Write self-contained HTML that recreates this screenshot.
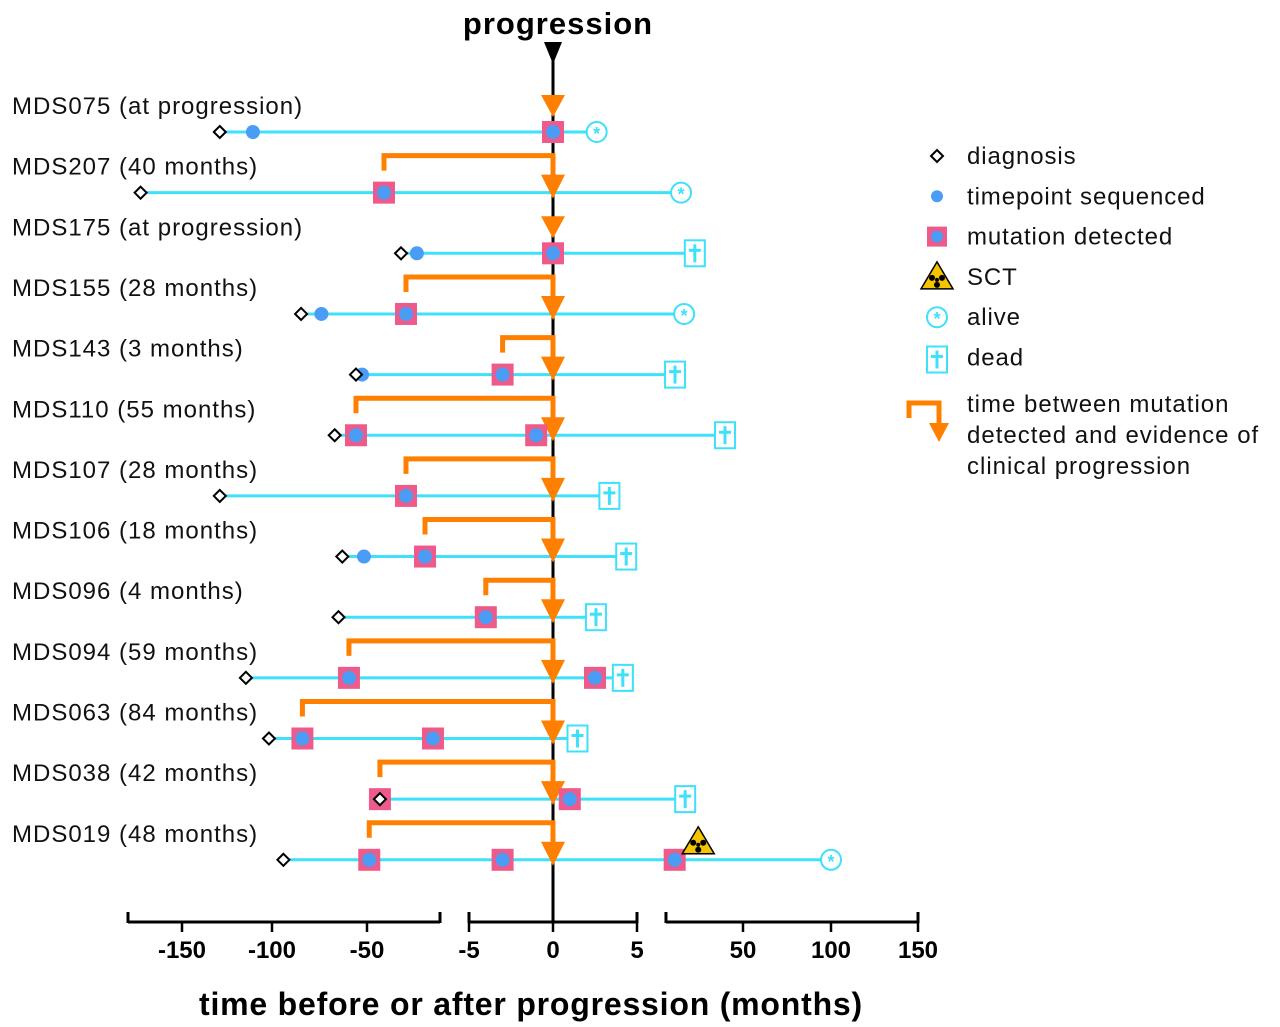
<!DOCTYPE html>
<html><head><meta charset="utf-8"><style>
body{margin:0;background:#fff;}
svg{display:block;font-family:"Liberation Sans",Arial,sans-serif;}
</style></head><body>
<svg id="chart" width="1280" height="1027" viewBox="0 0 1280 1027">
<g id="plot"></g>
</svg>
<script>
const patients = ["MDS075 (at progression)","MDS207 (40 months)","MDS175 (at progression)","MDS155 (28 months)","MDS143 (3 months)","MDS110 (55 months)","MDS107 (28 months)","MDS106 (18 months)","MDS096 (4 months)","MDS094 (59 months)","MDS063 (84 months)","MDS038 (42 months)","MDS019 (48 months)"];
const diagnosis = [-129,-173,-35,-84.7,-55.8,-67,-129,-63,-65,-114.5,-101.7,-44.3,-94];
const sequenced = [[-110.6],[],[-28],[-74],[-52.6],[],[],[-51.6],[],[],[],[],[]];
const mutations = [[0],[-42.5],[0],[-32.8],[-3],[-55.8,-1],[-32.8],[-24.4],[-4],[-59.5,2.5],[-84,-20.9],[-44.3,1],[-49,-3,21]];
const outcomeTime = [2.6,23.7,27,25,18.6,39.8,3,4,2.2,3.8,1.1,22.9,100];
const outcomeType = ["alive","alive","dead","alive","dead","dead","dead","dead","dead","dead","dead","dead","alive"];
const sctTime = [null,null,null,null,null,null,null,null,null,null,null,null,31];
const tickValues = [-150,-100,-50,-5,0,5,50,100,150];
const tickLabels = ["-150","-100","-50","-5","0","5","50","100","150"];
const segments = [[-180,-17.8],[-5,5],[17.3,150]];

const bpV=[-180,-150,-100,-50,-5,5,50,100,150];
const bpX=[128,182,272,367,469,637,743,831,918];
function x(v){
  if(v<=bpV[0]) return bpX[0]+(v-bpV[0])*1.8;
  for(let i=0;i<bpV.length-1;i++){
    if(v<=bpV[i+1]){return bpX[i]+(v-bpV[i])/(bpV[i+1]-bpV[i])*(bpX[i+1]-bpX[i]);}
  }
  return bpX[bpX.length-1]+(v-150)*1.75;
}
function y(i){return 132+i*60.65;}
const NS="http://www.w3.org/2000/svg";
const g=document.getElementById('plot');
function el(t,a,p){const e=document.createElementNS(NS,t);for(const k in a)e.setAttribute(k,a[k]);(p||g).appendChild(e);return e;}
const CY="#3ee0fa",BL="#4a9cf5",PK="#ee5a8a",OR="#ff8000";

let e=el('line',{x1:553,y1:55,x2:553,y2:922,stroke:"#000","stroke-width":3});


e=el('polygon',{points:"544,42 562,42 553,64",fill:"#000"});


e=el('text',{x:558,y:34,"font-size":31,"font-weight":"bold","text-anchor":"middle","letter-spacing":1});e.textContent="progression";



function alive(cx,cy,p){
  const gg=el('g',{},p);
  el('circle',{cx:cx,cy:cy,r:10,fill:"#fff",stroke:CY,"stroke-width":2},gg);
  const t=el('text',{x:cx,y:cy+8,"font-size":18,"font-weight":"bold",fill:CY,"text-anchor":"middle"},gg);t.textContent="*";
  return gg;
}
function dead(cx,cy,p){
  const gg=el('g',{},p);
  el('rect',{x:cx-10,y:cy-13,width:20,height:26,fill:"#fff",stroke:CY,"stroke-width":2},gg);
  el('line',{x1:cx,y1:cy-9,x2:cx,y2:cy+9,stroke:CY,"stroke-width":3},gg);
  el('line',{x1:cx-6,y1:cy-3,x2:cx+6,y2:cy-3,stroke:CY,"stroke-width":3},gg);
  return gg;
}
function diamond(cx,cy,p){return el('polygon',{points:`${cx},${cy-6} ${cx+6},${cy} ${cx},${cy+6} ${cx-6},${cy}`,fill:"#fff",stroke:"#000","stroke-width":2},p);}
function sct(cx,cy,p){
  const gg=el('g',{},p);
  el('polygon',{points:`${cx},${cy-15} ${cx+16},${cy+12} ${cx-16},${cy+12}`,fill:"#f5c400",stroke:"#000","stroke-width":1.5},gg);
  el('circle',{cx:cx,cy:cy+3,r:2,fill:"#000"},gg);
  el('circle',{cx:cx-5,cy:cy+1,r:3,fill:"#000"},gg);
  el('circle',{cx:cx+5,cy:cy+1,r:3,fill:"#000"},gg);
  el('circle',{cx:cx,cy:cy+8,r:3,fill:"#000"},gg);
  return gg;
}

patients.forEach((name,i)=>{
  const cy=y(i);
  const row=el('g',{});
  
  
  const lab=el('text',{x:12,y:cy-18,"font-size":24,"letter-spacing":1,fill:"#111"},row);lab.textContent=name;
  
  
  const xs=x(diagnosis[i]), xe=x(outcomeTime[i]);
  const ln=el('line',{x1:xs,y1:cy,x2:xe,y2:cy,stroke:CY,"stroke-width":3},row);
  
  
  const first=mutations[i][0];
  if(first<0){
    const bx=x(first);
    const br=el('polyline',{points:`${bx},${cy-22} ${bx},${cy-37} ${x(0)},${cy-37} ${x(0)},${cy-14}`,fill:"none",stroke:OR,"stroke-width":5},row);
    
    
    const ar=el('polygon',{points:`${x(0)-12},${cy-18} ${x(0)+12},${cy-18} ${x(0)},${cy+6}`,fill:OR},row);
    
    
  } else {
    const ar=el('polygon',{points:`${x(0)-12},${cy-37} ${x(0)+12},${cy-37} ${x(0)},${cy-15}`,fill:OR},row);
    
    
  }
  mutations[i].forEach(m=>{
    const mx=x(m);
    const s=el('rect',{x:mx-11,y:cy-11,width:22,height:22,fill:PK},row);
    
    
    if(Math.abs(m-diagnosis[i])>0.5) el('circle',{cx:mx,cy:cy,r:7,fill:BL},row);
  });
  sequenced[i].forEach(sv=>{
    const c=el('circle',{cx:x(sv),cy:cy,r:7,fill:BL},row);
    
    
  });
  const d=diamond(xs,cy,row);
  
  
  const o=outcomeType[i]==="alive"?alive(xe,cy,row):dead(xe+6,cy,row);
  
  
  if(sctTime[i]!==null){
    const s=sct(x(sctTime[i]),cy-18,row);
    
    
  }
});

const ax=el('g',{});


segments.forEach(sg=>{
  const a=x(sg[0]),b=x(sg[1]);
  el('line',{x1:a,y1:922,x2:b,y2:922,stroke:"#000","stroke-width":3},ax);
  el('line',{x1:a,y1:912,x2:a,y2:923,stroke:"#000","stroke-width":3},ax);
  el('line',{x1:b,y1:912,x2:b,y2:923,stroke:"#000","stroke-width":3},ax);
});
tickValues.forEach((v,k)=>{
  const tx=x(v);
  el('line',{x1:tx,y1:922,x2:tx,y2:932,stroke:"#000","stroke-width":2.5},ax);
  const t=el('text',{x:tx,y:958,"font-size":24,"font-weight":"bold","text-anchor":"middle"},ax);t.textContent=tickLabels[k];
  
  
});
e=el('text',{x:531,y:1015,"font-size":32,"font-weight":"bold","text-anchor":"middle","letter-spacing":0.8});e.textContent="time before or after progression (months)";



const lg=el('g',{});


const legTexts=["diagnosis","timepoint sequenced","mutation detected","SCT","alive","dead"];
legTexts.forEach((t,k)=>{
  const ly=156+k*40.3;
  const ent=el('g',{},lg);
  
  
  if(k===0) diamond(937,ly,ent);
  if(k===1) el('circle',{cx:937,cy:ly,r:6,fill:BL},ent);
  if(k===2){el('rect',{x:927,y:ly-10,width:20,height:20,fill:PK},ent);el('circle',{cx:937,cy:ly,r:6,fill:BL},ent);}
  if(k===3) sct(937,ly,ent);
  if(k===4) alive(937,ly,ent);
  if(k===5) dead(937,ly+2,ent);
  const tx=el('text',{x:967,y:ly+8,"font-size":24,"letter-spacing":0.9,fill:"#111"},ent);tx.textContent=t;
});
const be=el('g',{},lg);


el('polyline',{points:"909,418 909,403 939,403 939,425",fill:"none",stroke:OR,"stroke-width":5},be);
el('polygon',{points:"929,423 949,423 939,442",fill:OR},be);
["time between mutation","detected and evidence of","clinical progression"].forEach((t,k)=>{
  const tx=el('text',{x:967,y:412+k*31,"font-size":24,"letter-spacing":1,fill:"#111"},be);tx.textContent=t;
});
</script>
</body></html>
